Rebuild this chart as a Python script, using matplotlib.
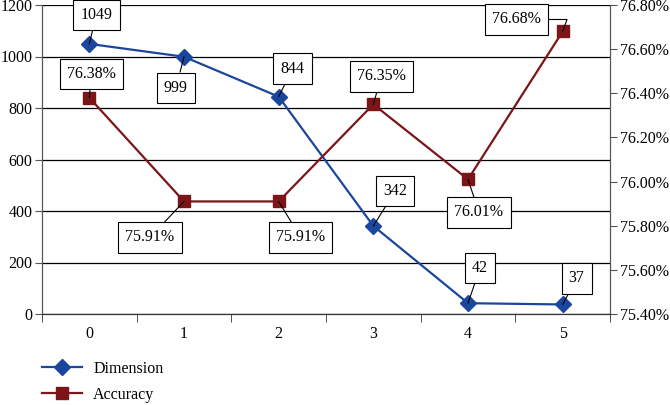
import matplotlib.pyplot as plt
from matplotlib.ticker import FuncFormatter, MultipleLocator

plt.rcParams['font.family'] = ['Liberation Serif', 'DejaVu Serif']
plt.rcParams['font.size'] = 11.5

cats = [0, 1, 2, 3, 4, 5]
dimension = [1049, 999, 844, 342, 42, 37]
accuracy = [76.38, 75.91, 75.91, 76.35, 76.01, 76.68]

# label offsets in pixels (label centre minus point, y up)
dim_off = [(7, 29), (-8, -31), (14, 28), (22, 35), (12, 35), (14, 26)]
acc_off = [(2, 24), (-34, -36), (22, -36), (8, 28), (11, -33), (-46, 12)]

blue = '#1b469e'
red = '#7c1517'

fig = plt.figure(figsize=(6.7, 4.05), dpi=100)
ax = fig.add_axes([42 / 670, 91 / 405, 568 / 670, 309 / 405])
ax2 = ax.twinx()

l1, = ax.plot(cats, dimension, color=blue, lw=1.6, marker='D', ms=8,
              label='Dimension', zorder=3)
l2, = ax2.plot(cats, accuracy, color=red, lw=1.6, marker='s', ms=8,
               label='Accuracy', zorder=3)

ax.set_xlim(-0.5, 5.5)
ax.set_ylim(0, 1200)
ax.yaxis.set_major_locator(MultipleLocator(200))
ax.grid(axis='y', color='black', lw=0.9)
ax.set_axisbelow(True)
ax.set_xticks(cats)
ax.set_xticks([c - 0.5 for c in cats] + [5.5], minor=True)
ax.tick_params(axis='x', which='major', length=0, pad=9)
ax.tick_params(axis='x', which='minor', length=6, color='#333333')
ax.tick_params(axis='y', length=5, color='#555555', pad=2)

ax2.set_ylim(75.4, 76.8)
ax2.yaxis.set_major_locator(MultipleLocator(0.2))
ax2.yaxis.set_major_formatter(FuncFormatter(lambda v, p: '%.2f%%' % v))
ax2.tick_params(axis='y', length=5, color='#555555', pad=2)

for a in (ax, ax2):
    a.spines['top'].set_visible(False)
    a.spines['left'].set_color('#555555')
    a.spines['right'].set_color('#555555')
    a.spines['bottom'].set_color('#333333')

box = dict(boxstyle='square,pad=0.45', fc='white', ec='black', lw=0.8)
for i, v in enumerate(dimension):
    ax.annotate(str(v), (cats[i], v), xytext=dim_off[i], textcoords='offset pixels',
                ha='center', va='center', bbox=box, zorder=5,
                arrowprops=dict(arrowstyle='-', color='black', lw=0.8, shrinkA=0, shrinkB=0))
for i, v in enumerate(accuracy):
    cs = 'angle,angleA=0,angleB=70,rad=0' if i == 5 else 'arc3'
    ax2.annotate('%.2f%%' % v, (cats[i], v), xytext=acc_off[i], textcoords='offset pixels',
                 ha='center', va='center', bbox=box, zorder=5,
                 arrowprops=dict(arrowstyle='-', color='black', lw=0.8, shrinkA=0, shrinkB=0,
                                 connectionstyle=cs))

fig.legend(handles=[l1, l2], loc='upper left', bbox_to_anchor=(42 / 670, 44 / 405),
           frameon=False, borderpad=0, borderaxespad=0, handlelength=2.5,
           handletextpad=0.7, labelspacing=0.6)

fig.savefig('out.png', dpi=100)
